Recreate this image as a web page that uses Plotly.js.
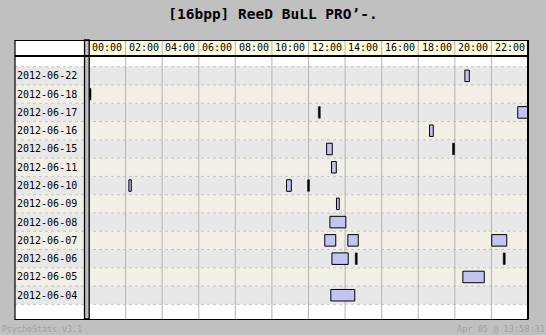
<!DOCTYPE html>
<html>
<head>
<meta charset="utf-8">
<script src="https://cdn.plot.ly/plotly-3.0.1.min.js"></script>
<style>html,body{margin:0;padding:0;background:#c0c0c0;}#chart{width:546px;height:335px;}</style>
</head>
<body>
<div id="chart"></div>
<script>
// ---- data ----
const dates = ["2012-06-22","2012-06-18","2012-06-17","2012-06-16","2012-06-15","2012-06-11","2012-06-10","2012-06-09","2012-06-08","2012-06-07","2012-06-06","2012-06-05","2012-06-04"];
const hourTicks = [0,2,4,6,8,10,12,14,16,18,20,22];
const hourLabels = ["00:00","02:00","04:00","06:00","08:00","10:00","12:00","14:00","16:00","18:00","20:00","22:00"];
// sessions (hours of day)
const sessionDate  = ["2012-06-22","2012-06-17","2012-06-16","2012-06-15","2012-06-11","2012-06-10","2012-06-10","2012-06-09","2012-06-08","2012-06-07","2012-06-07","2012-06-07","2012-06-06","2012-06-05","2012-06-04"];
const sessionStart = [20.55, 23.44, 18.62, 12.99, 13.26, 2.18, 10.80, 13.53, 13.17, 12.89, 14.15, 22.02, 13.28, 20.44, 13.22];
const sessionEnd   = [20.79, 24.30, 18.82, 13.30, 13.52, 2.31, 11.06, 13.68, 14.04, 13.49, 14.72, 22.84, 14.17, 21.61, 14.53];
// very short sessions (drawn as black ticks)
const blipDate = ["2012-06-18","2012-06-17","2012-06-15","2012-06-10","2012-06-06","2012-06-06"];
const blipTime = [0.04, 12.59, 19.93, 12.00, 14.61, 22.70];
const titleText = "[16bpp] ReeD BuLL PRO\u2019-.";
const footerLeft = "PsychoStats v3.1";
const footerRight = "Apr 05 @ 13:58:31";

// ---- helpers ----
const N = dates.length;
const rowOf = d => N - 1 - dates.indexOf(d);
const W = 546, H = 335, ML = 89, MR = 18, MT = 56, MB = 16;
const PW = W - ML - MR, PH = H - MT - MB;
const px = x => (x - ML) / PW;           // pixel x -> paper x
const py = y => (H - MB - y) / PH;       // pixel y -> paper y
const mono = "DejaVu Sans Mono, monospace";
const leftX = px(15), sepX = px(84.5), headTop = py(40);
const grayRow = "#e8e8e8", beigeRow = "#f2efe7";

const shapes = [];
// white column / blank rows
shapes.push({type:"rect", layer:"below", xref:"paper", yref:"paper", x0:leftX, x1:1, y0:0, y1:1, fillcolor:"#ffffff", line:{width:0}});
// row backgrounds
dates.forEach((d, i) => {
  const r = rowOf(d);
  shapes.push({type:"rect", layer:"below", xref:"paper", yref:"y", x0:leftX, x1:1, y0:r-0.5, y1:r+0.5,
    fillcolor: (i % 2 === 0) ? grayRow : beigeRow, line:{width:0}});
});
// dashed row separators
for (let k = -1; k < N; k++) {
  shapes.push({type:"line", layer:"below", xref:"paper", yref:"y", x0:leftX, x1:1, y0:k+0.5, y1:k+0.5,
    line:{color:"#c4c4c4", width:1, dash:"3px,3px"}});
}
// header backgrounds
shapes.push({type:"rect", layer:"below", xref:"paper", yref:"paper", x0:0, x1:1, y0:1, y1:headTop, fillcolor:"#ffffe0", line:{width:0}});
shapes.push({type:"rect", layer:"below", xref:"paper", yref:"paper", x0:leftX, x1:sepX, y0:1, y1:headTop, fillcolor:"#ffffff", line:{width:0}});
// vertical grid lines
hourTicks.slice(1).forEach(h => {
  shapes.push({type:"line", layer:"below", xref:"x", yref:"paper", x0:h, x1:h, y0:0, y1:headTop, line:{color:"#b4b4b4", width:1}});
});
// separator band between label column and plot
shapes.push({type:"rect", layer:"above", xref:"paper", yref:"paper", x0:sepX, x1:px(89.2), y0:0, y1:headTop, fillcolor:"#bdbdbd", line:{color:"#000", width:1.3}});
// header bottom line
shapes.push({type:"line", layer:"above", xref:"paper", yref:"paper", x0:leftX, x1:1, y0:1, y1:1, line:{color:"#000", width:2}});
// outer frame
shapes.push({type:"rect", layer:"above", xref:"paper", yref:"paper", x0:leftX, x1:px(528), y0:py(319.5), y1:py(40.5), line:{color:"#000", width:1.2}});
shapes.push({type:"line", layer:"above", xref:"paper", yref:"paper", x0:1, x1:1, y0:0, y1:headTop, line:{color:"#000", width:2}});

const annotations = [];
hourTicks.forEach((h, i) => {
  annotations.push({xref:"x", yref:"paper", x:h+1, y:(1+headTop)/2, text:hourLabels[i], showarrow:false,
    xanchor:"center", yanchor:"middle", font:{family:mono, size:10, color:"#000"}});
});
dates.forEach(d => {
  annotations.push({xref:"paper", yref:"y", x:px(15), y:rowOf(d), text:d, showarrow:false,
    xanchor:"left", yanchor:"middle", font:{family:mono, size:10, color:"#000"}});
});
annotations.push({xref:"paper", yref:"paper", x:px(0), y:py(328.5), text:footerLeft, showarrow:false,
  xanchor:"left", yanchor:"middle", font:{family:mono, size:8.3, color:"#a0a0a0"}});
annotations.push({xref:"paper", yref:"paper", x:px(547), y:py(328.5), text:footerRight, showarrow:false,
  xanchor:"right", yanchor:"middle", font:{family:mono, size:8.6, color:"#a0a0a0"}});

const bars = {
  type:"bar", orientation:"h",
  y: sessionDate.map(rowOf),
  base: sessionStart,
  x: sessionStart.map((s, i) => sessionEnd[i] - s),
  width: 0.63,
  marker:{color:"#c4c4f0", line:{color:"#000", width:1}},
  hoverinfo:"skip", showlegend:false
};
const blips = {
  type:"bar", orientation:"h",
  y: blipDate.map(rowOf),
  base: blipTime.map(t => Math.max(0, t - 0.055)),
  x: blipTime.map(() => 0.11),
  width: 0.63,
  marker:{color:"#000", line:{color:"#000", width:0.5}},
  hoverinfo:"skip", showlegend:false
};

const layout = {
  width:W, height:H,
  margin:{l:ML, r:MR, t:MT, b:MB, pad:0},
  paper_bgcolor:"#c0c0c0", plot_bgcolor:"#ffffff",
  barmode:"overlay",
  title:{text:titleText, x:0.5, xref:"paper", xanchor:"center", y:1-14/H, yref:"container", yanchor:"middle",
    font:{family:mono, size:14.5, weight:"bold", color:"#000"}},
  xaxis:{range:[0,24], showgrid:false, zeroline:false, showticklabels:false, ticks:"", fixedrange:true, showline:false},
  yaxis:{range:[-1.3,13.085], showgrid:false, zeroline:false, showticklabels:false, ticks:"", fixedrange:true, showline:false},
  shapes, annotations, showlegend:false
};
// center title on full page
layout.title.xref = "container";
Plotly.newPlot("chart", [bars, blips], layout, {staticPlot:true, displayModeBar:false});
</script>
</body>
</html>
